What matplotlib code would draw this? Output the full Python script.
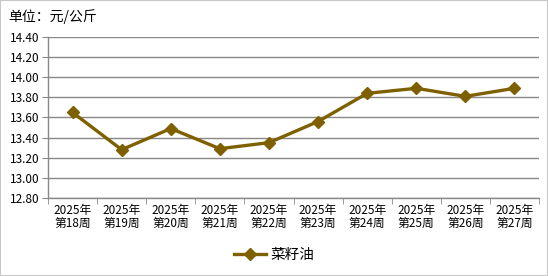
import matplotlib
matplotlib.use('Agg')
import matplotlib.pyplot as plt
import numpy as np

plt.rcParams['font.family'] = ['Noto Sans CJK SC', 'DejaVu Sans']

# data
weeks = ['2025年\n第18周', '2025年\n第19周', '2025年\n第20周', '2025年\n第21周', '2025年\n第22周',
         '2025年\n第23周', '2025年\n第24周', '2025年\n第25周', '2025年\n第26周', '2025年\n第27周']
prices = [13.65, 13.28, 13.49, 13.29, 13.35, 13.56, 13.84, 13.89, 13.81, 13.89]
y_ticks = [12.80, 13.00, 13.20, 13.40, 13.60, 13.80, 14.00, 14.20, 14.40]

line_color = '#7F6000'
grid_color = '#888888'

fig = plt.figure(figsize=(5.48, 2.76), dpi=100)
ax = fig.add_axes([0.0876, 0.2826, 0.896, 0.5834])

x = np.arange(len(weeks))
ax.plot(x, prices, color=line_color, linewidth=2.4, marker='D', markersize=6.5,
        label='菜籽油', zorder=3)

ax.set_xlim(-0.5, len(weeks) - 0.5)
ax.set_ylim(y_ticks[0], y_ticks[-1])
ax.set_yticks(y_ticks)
ax.set_yticklabels([f'{v:.2f}' for v in y_ticks], fontsize=8.5)
ax.yaxis.grid(True, color=grid_color, linewidth=1)
ax.set_axisbelow(True)

# category labels centered, tick marks at boundaries
ax.set_xticks(x)
ax.set_xticklabels(weeks, fontsize=8.5, linespacing=1.05)
ax.tick_params(axis='x', length=0, pad=4)
ax.set_xticks(np.arange(-0.5, len(weeks)), minor=True)
ax.tick_params(axis='x', which='minor', length=4, color=grid_color)
ax.tick_params(axis='y', length=4, color=grid_color, pad=2)

for s in ['top', 'right']:
    ax.spines[s].set_visible(False)
for s in ['left', 'bottom']:
    ax.spines[s].set_color(grid_color)
    ax.spines[s].set_linewidth(1)

fig.text(0.015, 0.94, '单位：元/公斤', fontsize=10, ha='left', va='center')

fig.legend(loc='center', bbox_to_anchor=(0.5, 0.075), frameon=False, fontsize=10.5,
           handlelength=2.2, handletextpad=0.3)

# outer border
fig.patches.append(plt.Rectangle((0, 0), 1, 1, transform=fig.transFigure, fill=False,
                                 edgecolor='#C8C8C8', linewidth=1.5))

fig.savefig('out.png', dpi=100)
